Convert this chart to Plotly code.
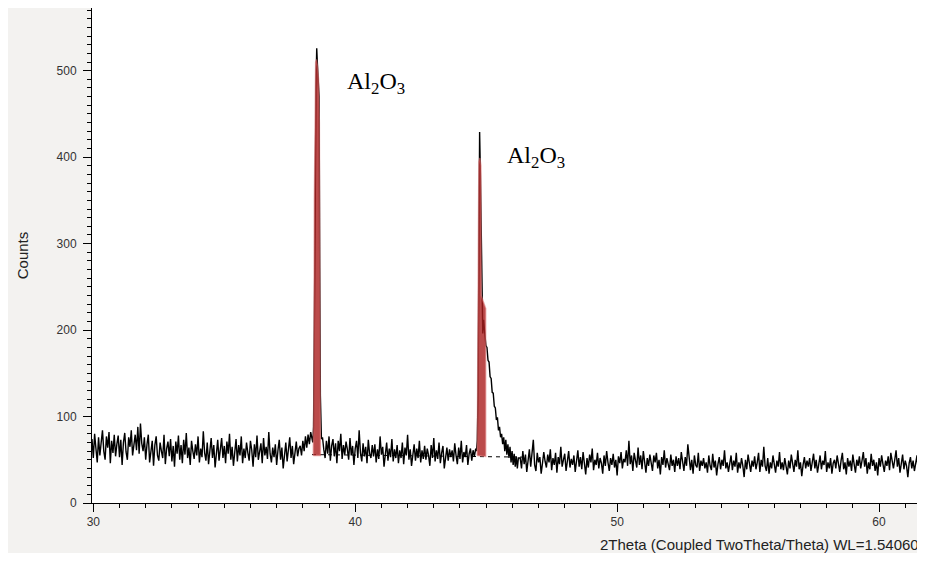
import numpy as np
import plotly.graph_objects as go

# ---------------- data ----------------
# baseline segment A: 2theta 29.90 .. 38.35, step 0.05
seg_a_start, seg_a_step = 29.90, 0.05
seg_a_counts = [
    58, 74, 52, 80, 63, 47, 76, 55, 70, 84, 60, 50, 77, 64, 82, 46, 72, 58, 79, 54,
    68, 78, 53, 73, 44, 70, 81, 59, 50, 76, 65, 84, 55, 66, 79, 61, 88, 57, 92, 69,
    60, 76, 50, 68, 79, 47, 62, 72, 43, 67, 77, 55, 49, 70, 60, 52, 79, 45, 63, 71,
    54, 74, 48, 66, 42, 71, 57, 78, 50, 67, 46, 73, 56, 81, 52, 64, 44, 72, 60, 51,
    68, 55, 77, 47, 63, 53, 83, 58, 49, 70, 45, 64, 75, 52, 67, 41, 60, 73, 49, 63,
    75, 52, 66, 46, 71, 57, 80, 50, 65, 43, 61, 74, 48, 67, 55, 77, 46, 63, 52, 70,
    58, 49, 72, 61, 42, 68, 53, 78, 50, 62, 69, 46, 75, 55, 65, 51, 82, 57, 47, 64,
    53, 68, 44, 61, 73, 50, 64, 40, 57, 70, 48, 62, 76, 52, 66, 45, 60, 71, 54, 63,
    66, 55, 72, 60, 77, 64, 79, 68, 82, 73,
]

# first Al2O3 reflection (measured)
peak1_x = [38.38, 38.41, 38.44, 38.47, 38.50, 38.53, 38.56, 38.59, 38.62, 38.645, 38.67, 38.71]
peak1_counts = [70, 88, 172, 330, 478, 526, 505, 481, 470, 272, 124, 74]

# baseline segment B: 2theta 38.75 .. 44.60, step 0.05
seg_b_start, seg_b_step = 38.75, 0.05
seg_b_counts = [
    76, 62, 52, 72, 57, 77, 49, 66, 74, 54, 69, 46, 72, 60, 80, 51, 67, 56, 71,
    62, 50, 75, 55, 66, 44, 63, 72, 52, 84, 58, 48, 69, 54, 65, 46, 73, 57, 52, 67,
    54, 68, 47, 62, 51, 77, 56, 65, 42, 60, 70, 49, 63, 53, 74, 48, 62, 52, 67, 46,
    61, 52, 70, 45, 64, 55, 79, 50, 62, 43, 56, 68, 49, 63, 52, 72, 47, 61, 51, 66,
    50, 63, 55, 43, 67, 52, 75, 48, 61, 51, 70, 46, 58, 66, 40, 56, 64, 49, 62, 53,
    61, 48, 69, 55, 45, 64, 51, 72, 47, 59, 53, 67, 44, 57, 63, 49, 61, 54, 63,
]

# second Al2O3 reflection with its tail (measured)
peak2_x = [44.63, 44.66, 44.69, 44.72, 44.75, 44.78, 44.81, 44.84, 44.87, 44.90,
           44.93, 44.96, 44.99, 45.03, 45.07, 45.11, 45.15, 45.19, 45.23, 45.27,
           45.31, 45.35, 45.39, 45.43, 45.47, 45.51, 45.55, 45.59, 45.63, 45.67,
           45.71, 45.75, 45.79, 45.83, 45.87, 45.91, 45.95, 45.99, 46.03, 46.07,
           46.11, 46.15, 46.19, 46.23]
peak2_counts = [60, 72, 125, 300, 429, 380, 300, 215, 196, 212,
                198, 190, 182, 180, 165, 163, 146, 144, 128, 127,
                112, 110, 96, 99, 84, 88, 76, 80, 68, 76,
                60, 73, 56, 68, 52, 65, 47, 60, 44, 57,
                42, 54, 40, 52]

# baseline segment C: 2theta 46.30 .. 61.80, step 0.05
seg_c_start, seg_c_step = 46.30, 0.05
seg_c_counts = [
    52, 40, 60, 45, 56, 36, 50, 62, 42, 55, 73, 44, 37, 58, 47, 53, 34, 46, 59, 48,
    41, 56, 47, 62, 38, 52, 44, 58, 35, 53, 45, 65, 42, 50, 57, 37, 48, 60, 41, 51,
    44, 55, 36, 50, 61, 42, 53, 39, 59, 46, 33, 52, 41, 56, 47, 63, 38, 50, 44, 58,
    40, 52, 46, 34, 55, 43, 60, 47, 37, 52, 44, 57, 41, 50, 32, 54, 46, 59, 40, 51,
    47, 61, 43, 72, 45, 55, 37, 58, 48, 41, 64, 44, 55, 39, 60, 47, 35, 52, 43, 56,
    44, 37, 55, 47, 58, 40, 50, 33, 53, 44, 61, 41, 52, 46, 38, 56, 43, 50, 36, 54,
    43, 52, 39, 59, 46, 37, 53, 43, 68, 47, 38, 50, 34, 55, 44, 41, 58, 37, 49, 43,
    52, 40, 47, 35, 55, 43, 38, 57, 41, 49, 32, 45, 53, 39, 50, 43, 61, 40, 47, 36,
    45, 55, 38, 49, 42, 58, 35, 47, 40, 52, 43, 30, 50, 39, 56, 45, 36, 49, 42, 54,
    39, 47, 58, 36, 50, 42, 65, 43, 37, 52, 34, 47, 40, 55, 45, 35, 49, 42, 59, 39,
    47, 38, 52, 43, 33, 49, 40, 56, 45, 36, 50, 42, 61, 39, 47, 31, 44, 53, 40, 49,
    42, 52, 37, 47, 57, 40, 50, 35, 46, 55, 39, 49, 44, 60, 36, 47, 40, 52, 34, 46,
    50, 40, 55, 43, 36, 49, 58, 39, 47, 33, 52, 42, 49, 37, 56, 45, 35, 50, 43, 54,
    40, 49, 59, 42, 52, 34, 47, 39, 57, 43, 50, 37, 47, 32, 52, 42, 55, 45, 36, 49,
    43, 54, 38, 58, 47, 40, 50, 61, 42, 52, 35, 47, 56, 39, 49, 43, 30, 46, 53, 40,
    49, 37, 46, 55, 34, 44, 51, 40, 52, 36, 46,
]

# fitted peak areas (red)
fit1_x = [38.40, 38.42, 38.44, 38.46, 38.49, 38.52, 38.56, 38.60, 38.63, 38.65, 38.67, 38.40]
fit1_counts = [55, 130, 350, 480, 510, 513, 505, 490, 440, 250, 55, 55]
fit2_x = [44.66, 44.68, 44.70, 44.72, 44.76, 44.80, 44.81, 44.85, 44.90, 44.95, 44.98, 44.98, 44.66]
fit2_counts = [55, 150, 360, 395, 399, 390, 240, 236, 232, 228, 225, 54, 55]

# background line (dashed)
bg_x = [38.35, 46.60]
bg_counts = [56, 53]

labels = [("Al<sub>2</sub>O<sub>3</sub>", 39.60, 486), ("Al<sub>2</sub>O<sub>3</sub>", 45.70, 400)]

x_title = "2Theta (Coupled TwoTheta/Theta) WL=1.54060"
y_title = "Counts"


def grid(start, step, n):
    return list(np.round(start + step * np.arange(n), 3))


x_all = (grid(seg_a_start, seg_a_step, len(seg_a_counts)) + peak1_x
         + grid(seg_b_start, seg_b_step, len(seg_b_counts)) + peak2_x
         + grid(seg_c_start, seg_c_step, len(seg_c_counts)))
y_all = seg_a_counts + peak1_counts + seg_b_counts + peak2_counts + seg_c_counts

# ---------------- figure ----------------
fig = go.Figure()
fig.add_trace(go.Scatter(x=bg_x, y=bg_counts, mode="lines",
                         line=dict(color="black", width=1, dash="4px,4px"),
                         hoverinfo="skip"))
fig.add_trace(go.Scatter(x=x_all, y=y_all, mode="lines",
                         line=dict(color="black", width=1.4)))
for fx, fy in [(fit1_x, fit1_counts), (fit2_x, fit2_counts)]:
    fig.add_trace(go.Scatter(x=fx, y=fy, mode="lines", fill="toself",
                             fillcolor="rgba(170,30,30,0.8)",
                             line=dict(color="rgba(215,110,110,0.55)", width=1.5),
                             hoverinfo="skip"))

for text, lx, ly in labels:
    fig.add_annotation(x=lx, y=ly, text=text, showarrow=False, xanchor="left",
                       yanchor="middle",
                       font=dict(family="Liberation Serif, Times New Roman, serif",
                                 size=24, color="black"))

W, H = 917, 545
L, R, T, B = 84, 0, 0, 50
ph = H - T - B

fig.add_annotation(xref="paper", yref="paper", x=1, xshift=-4,
                   y=-(536.5 - (H - B)) / ph,
                   xanchor="right", yanchor="middle", text=x_title, showarrow=False,
                   font=dict(family="Liberation Sans, Arial, sans-serif", size=15,
                             color="#222"))

gray = "#f3f2f0"
tickfont = dict(family="Liberation Sans, Arial, sans-serif", size=12, color="#333")
fig.update_layout(
    width=W, height=H, margin=dict(l=L, r=R, t=T, b=B, pad=0),
    paper_bgcolor=gray, plot_bgcolor="white", showlegend=False,
    xaxis=dict(range=[29.95, 61.755], showgrid=False, zeroline=False,
               showline=True, linecolor="black", linewidth=1,
               ticks="outside", ticklen=8, tickcolor="black", dtick=10, tick0=0,
               tickfont=tickfont,
               minor=dict(dtick=1, ticklen=4, ticks="outside", tickcolor="black")),
    yaxis=dict(range=[0, 572.5], showgrid=False, zeroline=False,
               showline=True, linecolor="black", linewidth=1,
               ticks="outside", ticklen=8, tickcolor="black", dtick=100, tick0=0,
               tickfont=tickfont, ticklabelstandoff=4,
               title=dict(text=y_title, standoff=24,
                          font=dict(family="Liberation Sans, Arial, sans-serif",
                                    size=15, color="#222")),
               minor=dict(dtick=10, ticklen=4, ticks="outside", tickcolor="black")),
)

fig.write_html("out.html")
